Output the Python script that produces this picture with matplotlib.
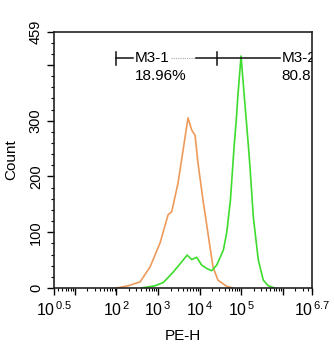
import numpy as np
import matplotlib
matplotlib.use("Agg")
import matplotlib.pyplot as plt
from matplotlib.ticker import FixedLocator, NullFormatter

plt.rcParams['font.family'] = ['Liberation Sans', 'DejaVu Sans']
plt.rcParams['mathtext.fontset'] = 'custom'
plt.rcParams['mathtext.rm'] = 'Liberation Sans'
plt.rcParams['mathtext.it'] = 'Liberation Sans'

# --- data (log10 of PE-H, counts) ---
orange_log = [2.0, 2.28, 2.57, 2.81, 3.05, 3.24, 3.33, 3.48, 3.60, 3.72, 3.81, 3.89, 3.96, 4.08, 4.20, 4.32, 4.44, 4.65, 4.8]
orange_cnt = [0, 4, 11, 38, 81, 131, 137, 188, 246, 305, 283, 274, 224, 158, 98, 38, 14, 3, 0]

green_log = [2.6, 2.93, 3.13, 3.37, 3.57, 3.70, 3.81, 3.93, 4.05, 4.17, 4.29, 4.41, 4.57, 4.65, 4.74, 4.83, 4.88, 4.92, 4.995, 5.07, 5.12, 5.17, 5.21, 5.29, 5.41, 5.53, 5.65, 5.8]
green_cnt = [0, 4, 10, 29, 47, 59, 51, 55, 41, 35, 31, 41, 68, 99, 158, 256, 301, 346, 416, 346, 301, 256, 217, 127, 50, 14, 4, 0]

gate_y = 412
gate1_log = (2.0, 4.42)
gate2_log = (4.42, 6.9)
gate1_label = "M3-1"
gate1_pct = "18.96%"
gate2_label = "M3-2"
gate2_pct = "80.81%"

x_major = [0.5, 1, 2, 3, 4, 5, 6, 6.7]
x_labels = {0.5: r'$\mathregular{10^{\,0.5}}$', 2: r'$\mathregular{10^{\,2}}$', 3: r'$\mathregular{10^{\,3}}$',
            4: r'$\mathregular{10^{\,4}}$', 5: r'$\mathregular{10^{\,5}}$', 6.7: r'$\mathregular{10^{\,6.7}}$'}
y_major = [0, 100, 200, 300, 400, 459]
y_labels = ['0', '100', '200', '300', '', '459']

fig = plt.figure(figsize=(3.34, 3.5), dpi=100)
ax = fig.add_axes([54/334, 62/350, 258/334, 256/350])

ax.plot(10**np.array(orange_log), orange_cnt, color='#EE9A5A', lw=1.2)
ax.plot(10**np.array(green_log), green_cnt, color='#3EDC2E', lw=1.2)

ax.set_xscale('log')
ax.set_xlim(10**0.5, 10**6.7)
ax.set_ylim(0, 459)

ax.xaxis.set_major_locator(FixedLocator([10**v for v in x_major]))
ax.set_xticklabels([x_labels.get(v, '') for v in x_major])
minors = []
for d in range(0, 7):
    for m in range(2, 10):
        v = m * 10**d
        if 10**0.5 < v < 10**6.7:
            minors.append(v)
ax.xaxis.set_minor_locator(FixedLocator(minors))
ax.xaxis.set_minor_formatter(NullFormatter())

ax.yaxis.set_major_locator(FixedLocator(y_major))
ax.set_yticklabels(y_labels)
ax.yaxis.set_minor_locator(FixedLocator([v for v in range(20, 459, 20) if v % 100 != 0]))

ax.tick_params(which='major', direction='out', length=5, width=1.0)
ax.tick_params(which='minor', direction='out', length=2.5, width=0.8)
ax.tick_params(axis='x', which='major', labelsize=11.5, pad=4)
ax.tick_params(axis='y', which='major', labelrotation=90, labelsize=10.5, pad=3)
for lab in ax.get_yticklabels():
    lab.set_va('center')
for s in ax.spines.values():
    s.set_linewidth(1.2)
    s.set_color('#222222')

ax.set_xlabel('PE-H', fontsize=11, labelpad=7)
ax.set_ylabel('Count', fontsize=11, labelpad=8)

# gates
h = 12
kw = dict(color='#111111', lw=1.1, clip_on=True)
ax.plot([10**gate1_log[0]]*2, [gate_y-h, gate_y+h], **kw)
ax.plot([10**gate1_log[1]]*2, [gate_y-h, gate_y+h], **kw)
ax.plot([10**gate1_log[0], 10**2.40], [gate_y]*2, **kw)
ax.plot([10**3.31, 10**3.91], [gate_y]*2, color='#aaaaaa', lw=0.8, ls=(0, (1, 1)))
ax.plot([10**3.91, 10**5.93], [gate_y]*2, **kw)

ax.text(10**2.45, gate_y, gate1_label, fontsize=11, va='center', ha='left')
ax.text(10**2.45, gate_y - 32, gate1_pct, fontsize=11, va='center', ha='left')
ax.text(10**5.97, gate_y, gate2_label, fontsize=11, va='center', ha='left', clip_on=True)
ax.text(10**5.97, gate_y - 32, gate2_pct, fontsize=11, va='center', ha='left', clip_on=True)

fig.savefig('out.png', dpi=100)
